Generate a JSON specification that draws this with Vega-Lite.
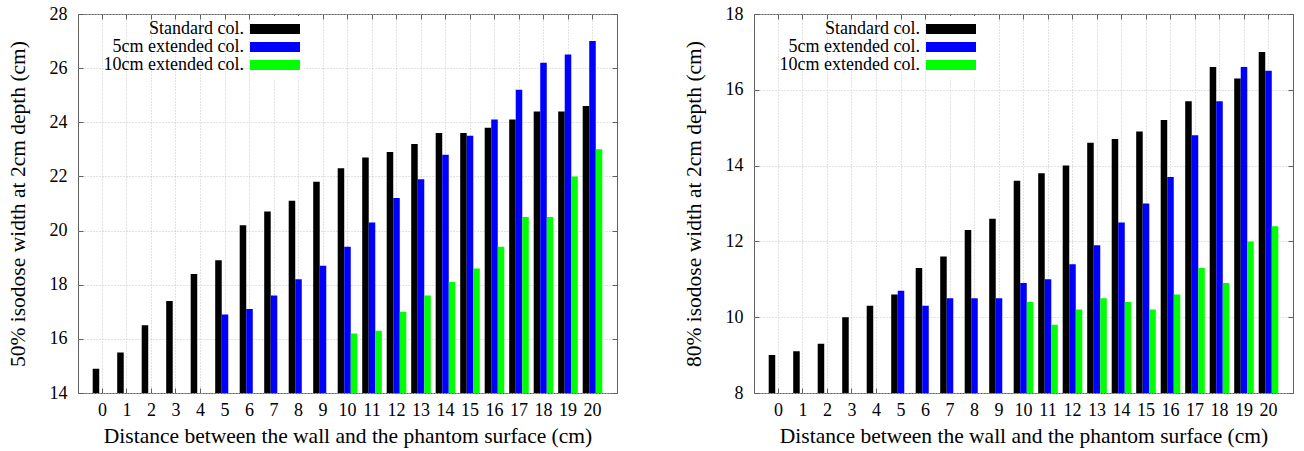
{
  "$schema": "https://vega.github.io/schema/vega-lite/v6.json",
  "background": "white",
  "padding": {"left": 6, "top": 4, "right": 5, "bottom": 0},
  "config": {
    "font": "Liberation Serif",
    "view": {"stroke": "#606060", "strokeWidth": 1},
    "concat": {"spacing": 64},
    "axis": {
      "labelFont": "Liberation Serif", "labelFontSize": 18, "labelColor": "black",
      "titleFont": "Liberation Serif", "titleFontSize": 21.5, "titleFontWeight": "normal", "titleColor": "black",
      "domain": false, "tickColor": "#606060", "tickSize": -5,
      "gridColor": "#c4c4c4", "gridDash": [1, 2]
    },
    "legend": {
      "orient": "none", "legendX": 184, "legendY": 2, "title": null,
      "symbolType": "M-5,-1H5V1H-5Z", "symbolSize": 100, "symbolStrokeWidth": 0,
      "labelAlign": "right", "labelOffset": -40, "labelFontSize": 18, "labelFont": "Liberation Serif",
      "labelColor": "black", "rowPadding": 0, "fillColor": "white", "padding": 4
    }
  },
  "datasets": {
    "left": [
      {"d":0,"s":"Standard col.","v":14.9},{"d":1,"s":"Standard col.","v":15.5},{"d":2,"s":"Standard col.","v":16.5},{"d":3,"s":"Standard col.","v":17.4},{"d":4,"s":"Standard col.","v":18.4},{"d":5,"s":"Standard col.","v":18.9},{"d":6,"s":"Standard col.","v":20.2},{"d":7,"s":"Standard col.","v":20.7},{"d":8,"s":"Standard col.","v":21.1},{"d":9,"s":"Standard col.","v":21.8},{"d":10,"s":"Standard col.","v":22.3},{"d":11,"s":"Standard col.","v":22.7},{"d":12,"s":"Standard col.","v":22.9},{"d":13,"s":"Standard col.","v":23.2},{"d":14,"s":"Standard col.","v":23.6},{"d":15,"s":"Standard col.","v":23.6},{"d":16,"s":"Standard col.","v":23.8},{"d":17,"s":"Standard col.","v":24.1},{"d":18,"s":"Standard col.","v":24.4},{"d":19,"s":"Standard col.","v":24.4},{"d":20,"s":"Standard col.","v":24.6},
      {"d":5,"s":"5cm extended col.","v":16.9},{"d":6,"s":"5cm extended col.","v":17.1},{"d":7,"s":"5cm extended col.","v":17.6},{"d":8,"s":"5cm extended col.","v":18.2},{"d":9,"s":"5cm extended col.","v":18.7},{"d":10,"s":"5cm extended col.","v":19.4},{"d":11,"s":"5cm extended col.","v":20.3},{"d":12,"s":"5cm extended col.","v":21.2},{"d":13,"s":"5cm extended col.","v":21.9},{"d":14,"s":"5cm extended col.","v":22.8},{"d":15,"s":"5cm extended col.","v":23.5},{"d":16,"s":"5cm extended col.","v":24.1},{"d":17,"s":"5cm extended col.","v":25.2},{"d":18,"s":"5cm extended col.","v":26.2},{"d":19,"s":"5cm extended col.","v":26.5},{"d":20,"s":"5cm extended col.","v":27.0},
      {"d":10,"s":"10cm extended col.","v":16.2},{"d":11,"s":"10cm extended col.","v":16.3},{"d":12,"s":"10cm extended col.","v":17.0},{"d":13,"s":"10cm extended col.","v":17.6},{"d":14,"s":"10cm extended col.","v":18.1},{"d":15,"s":"10cm extended col.","v":18.6},{"d":16,"s":"10cm extended col.","v":19.4},{"d":17,"s":"10cm extended col.","v":20.5},{"d":18,"s":"10cm extended col.","v":20.5},{"d":19,"s":"10cm extended col.","v":22.0},{"d":20,"s":"10cm extended col.","v":23.0}
    ],
    "right": [
      {"d":0,"s":"Standard col.","v":9.0},{"d":1,"s":"Standard col.","v":9.1},{"d":2,"s":"Standard col.","v":9.3},{"d":3,"s":"Standard col.","v":10.0},{"d":4,"s":"Standard col.","v":10.3},{"d":5,"s":"Standard col.","v":10.6},{"d":6,"s":"Standard col.","v":11.3},{"d":7,"s":"Standard col.","v":11.6},{"d":8,"s":"Standard col.","v":12.3},{"d":9,"s":"Standard col.","v":12.6},{"d":10,"s":"Standard col.","v":13.6},{"d":11,"s":"Standard col.","v":13.8},{"d":12,"s":"Standard col.","v":14.0},{"d":13,"s":"Standard col.","v":14.6},{"d":14,"s":"Standard col.","v":14.7},{"d":15,"s":"Standard col.","v":14.9},{"d":16,"s":"Standard col.","v":15.2},{"d":17,"s":"Standard col.","v":15.7},{"d":18,"s":"Standard col.","v":16.6},{"d":19,"s":"Standard col.","v":16.3},{"d":20,"s":"Standard col.","v":17.0},
      {"d":5,"s":"5cm extended col.","v":10.7},{"d":6,"s":"5cm extended col.","v":10.3},{"d":7,"s":"5cm extended col.","v":10.5},{"d":8,"s":"5cm extended col.","v":10.5},{"d":9,"s":"5cm extended col.","v":10.5},{"d":10,"s":"5cm extended col.","v":10.9},{"d":11,"s":"5cm extended col.","v":11.0},{"d":12,"s":"5cm extended col.","v":11.4},{"d":13,"s":"5cm extended col.","v":11.9},{"d":14,"s":"5cm extended col.","v":12.5},{"d":15,"s":"5cm extended col.","v":13.0},{"d":16,"s":"5cm extended col.","v":13.7},{"d":17,"s":"5cm extended col.","v":14.8},{"d":18,"s":"5cm extended col.","v":15.7},{"d":19,"s":"5cm extended col.","v":16.6},{"d":20,"s":"5cm extended col.","v":16.5},
      {"d":10,"s":"10cm extended col.","v":10.4},{"d":11,"s":"10cm extended col.","v":9.8},{"d":12,"s":"10cm extended col.","v":10.2},{"d":13,"s":"10cm extended col.","v":10.5},{"d":14,"s":"10cm extended col.","v":10.4},{"d":15,"s":"10cm extended col.","v":10.2},{"d":16,"s":"10cm extended col.","v":10.6},{"d":17,"s":"10cm extended col.","v":11.3},{"d":18,"s":"10cm extended col.","v":10.9},{"d":19,"s":"10cm extended col.","v":12.0},{"d":20,"s":"10cm extended col.","v":12.4}
    ]
  },
  "hconcat": [
    {
      "width": 539, "height": 379,
      "data": {"name": "left"},
      "layer": [
        {
          "mark": {"type": "bar", "clip": true},
          "encoding": {
            "x": {"field": "d", "type": "ordinal", "scale": {"paddingInner": 0.2, "paddingOuter": 0.6},
                  "axis": {"title": "Distance between the wall and the phantom surface (cm)", "labelAngle": 0, "grid": true, "labelPadding": 13, "titlePadding": 6}},
            "xOffset": {"field": "s", "type": "nominal", "scale": {"domain": ["Standard col.", "5cm extended col.", "10cm extended col."]}},
            "y": {"field": "v", "type": "quantitative", "scale": {"domain": [14, 28], "nice": false, "zero": false},
                  "axis": {"title": "50% isodose width at 2cm depth (cm)", "values": [14, 16, 18, 20, 22, 24, 26, 28], "grid": true, "labelPadding": 16, "titlePadding": 20}},
            "color": {"field": "s", "type": "nominal", "scale": {"domain": ["Standard col.", "5cm extended col.", "10cm extended col."], "range": ["#000000", "#0000ff", "#00ff00"]}}
          }
        },
        {
          "mark": {"type": "bar", "opacity": 0},
          "encoding": {
            "x": {"field": "d", "type": "ordinal", "axis": {"orient": "top", "labels": false, "title": null, "grid": false}},
            "xOffset": {"field": "s", "type": "nominal"},
            "y": {"field": "v", "type": "quantitative", "axis": {"orient": "right", "labels": false, "title": null, "grid": false, "values": [14, 16, 18, 20, 22, 24, 26, 28]}}
          }
        }
      ],
      "resolve": {"axis": {"x": "independent", "y": "independent"}}
    },
    {
      "width": 539, "height": 379,
      "data": {"name": "right"},
      "layer": [
        {
          "mark": {"type": "bar", "clip": true},
          "encoding": {
            "x": {"field": "d", "type": "ordinal", "scale": {"paddingInner": 0.2, "paddingOuter": 0.6},
                  "axis": {"title": "Distance between the wall and the phantom surface (cm)", "labelAngle": 0, "grid": true, "labelPadding": 13, "titlePadding": 6}},
            "xOffset": {"field": "s", "type": "nominal", "scale": {"domain": ["Standard col.", "5cm extended col.", "10cm extended col."]}},
            "y": {"field": "v", "type": "quantitative", "scale": {"domain": [8, 18], "nice": false, "zero": false},
                  "axis": {"title": "80% isodose width at 2cm depth (cm)", "values": [8, 10, 12, 14, 16, 18], "grid": true, "labelPadding": 16, "titlePadding": 20}},
            "color": {"field": "s", "type": "nominal", "scale": {"domain": ["Standard col.", "5cm extended col.", "10cm extended col."], "range": ["#000000", "#0000ff", "#00ff00"]}}
          }
        },
        {
          "mark": {"type": "bar", "opacity": 0},
          "encoding": {
            "x": {"field": "d", "type": "ordinal", "axis": {"orient": "top", "labels": false, "title": null, "grid": false}},
            "xOffset": {"field": "s", "type": "nominal"},
            "y": {"field": "v", "type": "quantitative", "axis": {"orient": "right", "labels": false, "title": null, "grid": false, "values": [8, 10, 12, 14, 16, 18]}}
          }
        }
      ],
      "resolve": {"axis": {"x": "independent", "y": "independent"}}
    }
  ],
  "resolve": {"scale": {"color": "independent", "x": "independent", "y": "independent", "xOffset": "independent"}, "legend": {"color": "independent"}}
}
